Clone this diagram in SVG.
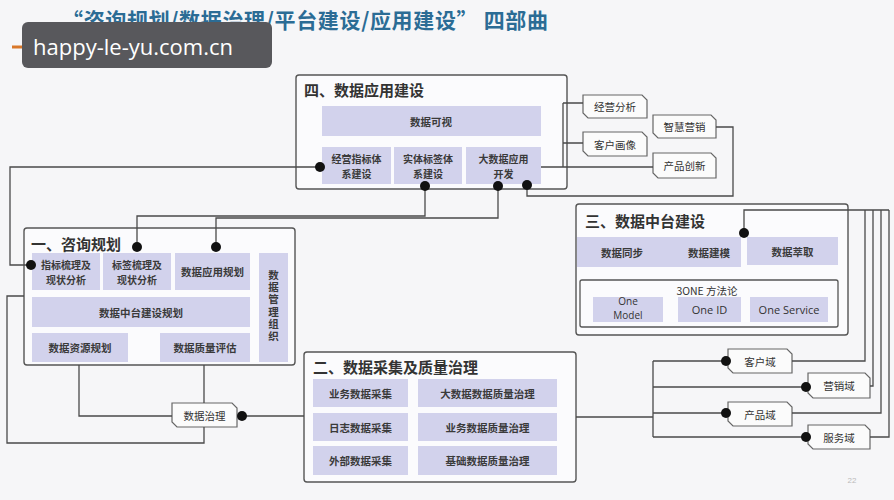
<svg xmlns="http://www.w3.org/2000/svg" width="894" height="500" viewBox="0 0 894 500">
<style>
.bg{fill:#f6f6f8}
.box{fill:#fbfbfd;stroke:#555;stroke-width:1.4}
.inner{fill:none;stroke:#555;stroke-width:1.3}
.cell{fill:#d2d2ec}
.tag{fill:#fbfbfb;stroke:#666;stroke-width:1.2}
.t{font-family:"Noto Sans CJK SC","Noto Sans",sans-serif;font-size:10.5px;font-weight:bold;fill:#3a3a3a;text-anchor:middle;dominant-baseline:central}
.t2{font-family:"Noto Sans CJK SC","Noto Sans",sans-serif;font-size:10px;font-weight:bold;fill:#3a3a3a;text-anchor:middle;dominant-baseline:central}
.tv{font-family:"Noto Sans CJK SC","Noto Sans",sans-serif;font-size:10.5px;font-weight:bold;fill:#3a3a3a;writing-mode:vertical-rl;letter-spacing:1.6px}
.tn{font-family:"Noto Sans CJK SC","Noto Sans",sans-serif;font-size:10.5px;fill:#333;text-anchor:middle;dominant-baseline:central}
.en{font-family:"Open Sans","Noto Sans",sans-serif;font-size:11px;fill:#333;text-anchor:middle;dominant-baseline:central}
.en2{font-family:"Open Sans","Noto Sans",sans-serif;font-size:10px;fill:#333;text-anchor:middle;dominant-baseline:central}
.h{font-family:"Noto Sans CJK SC","Noto Sans",sans-serif;font-size:15px;font-weight:bold;fill:#333;dominant-baseline:central}
.ln{fill:none;stroke:#4a4a4a;stroke-width:1.3}
.dot{fill:#111}
</style>
<rect class="bg" x="0" y="0" width="894" height="500"/>

<g id="title">
<text x="62" y="19" font-family="'Noto Sans CJK SC','Noto Sans',sans-serif" font-size="21" font-weight="bold" fill="#2b6c95" dominant-baseline="central" textLength="486" lengthAdjust="spacing">“咨询规划/数据治理/平台建设/应用建设” 四部曲</text>
</g>
<g id="watermark">
<line x1="12" y1="47" x2="26" y2="47" stroke="#d9782a" stroke-width="3"/>
<rect x="22" y="22" width="250" height="46" rx="6" fill="#58585c"/>
<text x="33" y="46" font-family="'Open Sans','DejaVu Sans',sans-serif" font-size="22" fill="#ffffff" dominant-baseline="central">happy-le-yu.com.cn</text>
</g>

<g id="box4">
<rect class="box" x="296" y="75" width="271" height="114" rx="3"/>
<text class="h" x="304" y="89">四、数据应用建设</text>
<rect class="cell" x="322" y="106" width="219" height="30"/>
<text class="t" x="431" y="121">数据可视</text>
<rect class="cell" x="322" y="147" width="69" height="37"/>
<text class="t2" x="356.5" y="158">经营指标体<tspan x="356.5" dy="15">系建设</tspan></text>
<rect class="cell" x="394" y="147" width="68" height="37"/>
<text class="t2" x="428" y="158">实体标签体<tspan x="428" dy="15">系建设</tspan></text>
<rect class="cell" x="466" y="147" width="75" height="37"/>
<text class="t2" x="503.5" y="158">大数据应用<tspan x="503.5" dy="15">开发</tspan></text>
</g>

<g id="box1">
<rect class="box" x="24" y="228" width="271" height="137" rx="3"/>
<text class="h" x="31" y="243">一、咨询规划</text>
<rect class="cell" x="32" y="253" width="68" height="37"/>
<text class="t2" x="66" y="264">指标梳理及<tspan x="66" dy="15">现状分析</tspan></text>
<rect class="cell" x="103" y="253" width="68" height="37"/>
<text class="t2" x="137" y="264">标签梳理及<tspan x="137" dy="15">现状分析</tspan></text>
<rect class="cell" x="175" y="253" width="75" height="37"/>
<text class="t" x="212.5" y="271.5">数据应用规划</text>
<rect class="cell" x="259" y="253" width="29" height="109"/>
<text class="tv" x="273.5" y="270">数据管理组织</text>
<rect class="cell" x="32" y="297" width="218" height="30"/>
<text class="t" x="141" y="312">数据中台建设规划</text>
<rect class="cell" x="32" y="333" width="96" height="29"/>
<text class="t" x="80" y="347.5">数据资源规划</text>
<rect class="cell" x="160" y="333" width="90" height="29"/>
<text class="t" x="205" y="347.5">数据质量评估</text>
</g>

<g id="box2">
<rect class="box" x="304" y="352" width="272" height="130" rx="3"/>
<text class="h" x="313" y="366">二、数据采集及质量治理</text>
<rect class="cell" x="313" y="379" width="95" height="28"/>
<text class="t" x="360.5" y="393">业务数据采集</text>
<rect class="cell" x="418" y="379" width="139" height="28"/>
<text class="t" x="487.5" y="393">大数据数据质量治理</text>
<rect class="cell" x="313" y="413" width="95" height="28"/>
<text class="t" x="360.5" y="427">日志数据采集</text>
<rect class="cell" x="418" y="413" width="139" height="28"/>
<text class="t" x="487.5" y="427">业务数据质量治理</text>
<rect class="cell" x="313" y="446" width="95" height="29"/>
<text class="t" x="360.5" y="460.5">外部数据采集</text>
<rect class="cell" x="418" y="446" width="139" height="29"/>
<text class="t" x="487.5" y="460.5">基础数据质量治理</text>
</g>

<g id="box3">
<rect class="box" x="576" y="204" width="272" height="131" rx="3"/>
<text class="h" x="585" y="220" font-weight="500">三、数据中台建设</text>
<rect class="cell" x="577" y="237" width="164" height="30"/>
<text class="t" x="622" y="252">数据同步</text>
<text class="t" x="709" y="252">数据建模</text>
<rect class="cell" x="747" y="237" width="91" height="28"/>
<text class="t" x="792.5" y="251">数据萃取</text>
<rect class="inner" x="580" y="280" width="258" height="47" rx="2"/>
<text class="tn" x="707" y="290">3ONE 方法论</text>
<rect class="cell" x="593" y="297" width="70" height="25"/>
<text class="en2" x="628" y="301">One<tspan x="628" dy="14">Model</tspan></text>
<rect class="cell" x="678" y="297" width="63" height="25"/>
<text class="en" x="709.5" y="309.5">One ID</text>
<rect class="cell" x="750" y="297" width="78" height="25"/>
<text class="en" x="789" y="309.5">One Service</text>
</g>

<g id="tag-jyfx"><path class="tag" d="M583,95 H642 L647,100 V118 H588 L583,113 Z"/><text class="tn" x="615" y="106.5">经营分析</text></g>
<g id="tag-khhx"><path class="tag" d="M583,132 H642 L647,137 V156 H588 L583,151 Z"/><text class="tn" x="615" y="144">客户画像</text></g>
<g id="tag-zhyx"><path class="tag" d="M653,115 H711 L716,120 V138 H658 L653,133 Z"/><text class="tn" x="684.5" y="126.5">智慧营销</text></g>
<g id="tag-cpcx"><path class="tag" d="M653,153 H711 L716,158 V178 H658 L653,173 Z"/><text class="tn" x="684.5" y="165.5">产品创新</text></g>
<g id="tag-khy"><path class="tag" d="M728,349 H787 L792,354 V373 H733 L728,368 Z"/><text class="tn" x="760" y="361">客户域</text></g>
<g id="tag-yxy"><path class="tag" d="M808,373 H865 L870,378 V398 H813 L808,393 Z"/><text class="tn" x="839" y="385.5">营销域</text></g>
<g id="tag-cpy"><path class="tag" d="M728,402 H787 L792,407 V426 H733 L728,421 Z"/><text class="tn" x="760" y="414">产品域</text></g>
<g id="tag-fwy"><path class="tag" d="M808,425 H865 L870,430 V449 H813 L808,444 Z"/><text class="tn" x="839" y="437">服务域</text></g>
<g id="tag-sjzl"><path class="tag" d="M172,403 H232 L237,408 V427 H177 L172,422 Z"/><text class="tn" x="204.5" y="415">数据治理</text></g>

<g id="connectors">
<path class="ln" d="M320,167 H10 V265 H31"/>
<path class="ln" d="M425,186 V216 H137 V247"/>
<path class="ln" d="M498,186 V218 H216 V247"/>
<path class="ln" d="M527,185 V196 H733 V127 H716"/>
<path class="ln" d="M541,167 H653 M563,103 V167 M563,103 H583 M563,143 H583"/>
<path class="ln" d="M79,365 V416 H172 M204,365 V403 M204,427 V443 H7 V296 H24"/>
<path class="ln" d="M242,416 H304"/>
<path class="ln" d="M576,417 H653 M653,361 V437 M653,361 H726 M653,387 H806 M653,413 H726 M653,437 H806"/>
<path class="ln" d="M744,233 V210 H889 M792,361 H865 V210 M870,386 H873 V210 M792,413 H881 V210 M870,437 H889 V210"/>
<circle class="dot" cx="320" cy="167" r="5"/>
<circle class="dot" cx="425" cy="186" r="5"/>
<circle class="dot" cx="498" cy="186" r="5"/>
<circle class="dot" cx="527" cy="185" r="5"/>
<circle class="dot" cx="31" cy="265" r="5"/>
<circle class="dot" cx="137" cy="247" r="5"/>
<circle class="dot" cx="216" cy="247" r="5"/>
<circle class="dot" cx="242" cy="416" r="5"/>
<circle class="dot" cx="744" cy="233" r="5"/>
<circle class="dot" cx="726" cy="361" r="5"/>
<circle class="dot" cx="806" cy="387" r="5"/>
<circle class="dot" cx="726" cy="413" r="5"/>
<circle class="dot" cx="806" cy="437" r="5"/>
</g>

<text x="852" y="483" font-family="'Liberation Sans',sans-serif" font-size="8" fill="#bbbbbb" text-anchor="middle">22</text>
</svg>
